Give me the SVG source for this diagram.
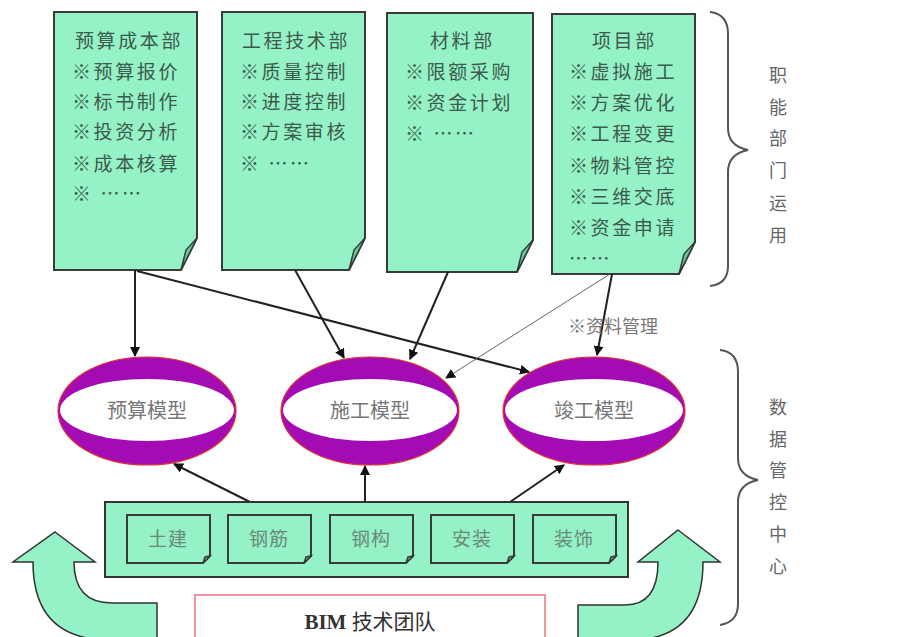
<svg xmlns="http://www.w3.org/2000/svg" width="913" height="637" viewBox="0 0 913 637">
<style>
.note{fill:#94f2c6;stroke:#3a3a3a;stroke-width:2}
.fold{fill:#5fcf9c;stroke:#3a3a3a;stroke-width:1.5}
.nt{font-family:"Noto Sans CJK SC","Noto Sans",sans-serif;font-size:19px;fill:#3e5a4c;letter-spacing:2.6px}
.side{font-family:"Noto Sans CJK SC",sans-serif;font-size:18px;fill:#666;text-anchor:middle}
.ell{fill:#a20cb2;stroke:#e23030;stroke-width:1.2}
.inner{fill:#fff}
.el{font-family:"Noto Sans CJK SC",sans-serif;font-size:20px;fill:#777;text-anchor:middle}
.sb{font-family:"Noto Sans CJK SC",sans-serif;font-size:19px;fill:#6a8a7a;text-anchor:middle;letter-spacing:1px}
.ln{stroke:#222;stroke-width:2;fill:none;marker-end:url(#ah)}
.thin{stroke:#666;stroke-width:1;fill:none;marker-end:url(#ah)}
.brace{fill:none;stroke:#555;stroke-width:2}
.bigarrow{fill:#94f2c6;stroke:#333;stroke-width:1.5}
</style>
<defs>
<marker id="ah" markerWidth="10" markerHeight="10" refX="9" refY="5" orient="auto" markerUnits="userSpaceOnUse">
<path d="M0,0 L10,5 L0,10 Z" fill="#111"/>
</marker>
</defs>
<rect width="913" height="637" fill="#fff"/>

<g id="dept-budget">
<path class="note" d="M54,12 H197 V238 L181,270 H54 Z"/>
<path class="fold" d="M197,238 L181,270 L186,250 Z"/>
<text class="nt" x="75" y="48">预算成本部</text>
<text class="nt" x="72" y="79">※预算报价</text>
<text class="nt" x="72" y="109">※标书制作</text>
<text class="nt" x="72" y="139">※投资分析</text>
<text class="nt" x="72" y="171">※成本核算</text>
<text class="nt" x="72" y="201">※ ……</text>
</g>

<g id="dept-engineering">
<path class="note" d="M222,12 H365 V238 L349,270 H222 Z"/>
<path class="fold" d="M365,238 L349,270 L354,250 Z"/>
<text class="nt" x="242" y="48">工程技术部</text>
<text class="nt" x="240" y="79">※质量控制</text>
<text class="nt" x="240" y="109">※进度控制</text>
<text class="nt" x="240" y="139">※方案审核</text>
<text class="nt" x="240" y="171">※ ……</text>
</g>

<g id="dept-material">
<path class="note" d="M387,13 H533 V240 L517,272 H387 Z"/>
<path class="fold" d="M533,240 L517,272 L522,252 Z"/>
<text class="nt" x="430" y="48">材料部</text>
<text class="nt" x="405" y="79">※限额采购</text>
<text class="nt" x="405" y="110">※资金计划</text>
<text class="nt" x="405" y="141">※ ……</text>
</g>

<g id="dept-project">
<path class="note" d="M552,14 H695 V242 L679,274 H552 Z"/>
<path class="fold" d="M695,242 L679,274 L684,254 Z"/>
<text class="nt" x="592" y="48">项目部</text>
<text class="nt" x="569" y="79">※虚拟施工</text>
<text class="nt" x="569" y="110">※方案优化</text>
<text class="nt" x="569" y="141">※工程变更</text>
<text class="nt" x="569" y="173">※物料管控</text>
<text class="nt" x="569" y="204">※三维交底</text>
<text class="nt" x="569" y="235">※资金申请</text>
<text class="nt" x="569" y="266">……</text>
</g>

<g id="brace-top">
<path class="brace" d="M710,12 Q728,14 728,34 V128 Q728,146 748,150 Q728,154 728,172 V266 Q728,284 710,286"/>
<text class="side" x="778" y="82">职</text>
<text class="side" x="778" y="114">能</text>
<text class="side" x="778" y="145">部</text>
<text class="side" x="778" y="177">门</text>
<text class="side" x="778" y="210">运</text>
<text class="side" x="778" y="242">用</text>
</g>

<g id="brace-bottom">
<path class="brace" d="M720,350 Q738,352 738,372 V458 Q738,476 758,480 Q738,484 738,502 V604 Q738,622 720,625"/>
<text class="side" x="778" y="414">数</text>
<text class="side" x="778" y="446">据</text>
<text class="side" x="778" y="477">管</text>
<text class="side" x="778" y="509">控</text>
<text class="side" x="778" y="541">中</text>
<text class="side" x="778" y="573">心</text>
</g>

<g id="model-budget">
<ellipse class="ell" cx="147" cy="411" rx="89" ry="54"/>
<ellipse class="inner" cx="147" cy="410" rx="87" ry="31"/>
<text class="el" x="147" y="418">预算模型</text>
</g>

<g id="model-construction">
<ellipse class="ell" cx="370" cy="411" rx="89" ry="54"/>
<ellipse class="inner" cx="370" cy="410" rx="87" ry="31"/>
<text class="el" x="370" y="418">施工模型</text>
</g>

<g id="model-completion">
<ellipse class="ell" cx="594" cy="411" rx="91" ry="54"/>
<ellipse class="inner" cx="594" cy="410" rx="89" ry="31"/>
<text class="el" x="594" y="418">竣工模型</text>
</g>

<g id="connectors">
<line class="ln" x1="135" y1="270" x2="135" y2="356"/>
<line class="ln" x1="137" y1="271" x2="529" y2="372"/>
<line class="ln" x1="295" y1="270" x2="344" y2="358"/>
<line class="ln" x1="448" y1="272" x2="410" y2="359"/>
<line class="ln" x1="612" y1="274" x2="597" y2="355"/>
<line class="thin" x1="610" y1="274" x2="446" y2="378"/>
<line class="ln" x1="250" y1="502" x2="174" y2="464"/>
<line class="ln" x1="365" y1="502" x2="365" y2="466"/>
<line class="ln" x1="510" y1="502" x2="564" y2="465"/>
</g>
<text x="568" y="333" style="font-family:'Noto Sans CJK SC',sans-serif;font-size:18px;fill:#777">※资料管理</text>

<g id="platform">
<rect x="105" y="502" width="523" height="75" fill="#94f2c6" stroke="#333" stroke-width="2"/>
</g>
<g id="sub-civil">
<path class="note" d="M127,515 H210 V556 L203,563 H127 Z"/>
<path class="fold" d="M210,556 L203,563 L205,557 Z"/>
<text class="sb" x="168" y="546">土建</text>
</g>
<g id="sub-rebar">
<path class="note" d="M228,515 H311 V556 L304,563 H228 Z"/>
<path class="fold" d="M311,556 L304,563 L306,557 Z"/>
<text class="sb" x="269" y="546">钢筋</text>
</g>
<g id="sub-steel">
<path class="note" d="M330,515 H413 V556 L406,563 H330 Z"/>
<path class="fold" d="M413,556 L406,563 L408,557 Z"/>
<text class="sb" x="371" y="546">钢构</text>
</g>
<g id="sub-install">
<path class="note" d="M431,515 H514 V556 L507,563 H431 Z"/>
<path class="fold" d="M514,556 L507,563 L509,557 Z"/>
<text class="sb" x="472" y="546">安装</text>
</g>
<g id="sub-decor">
<path class="note" d="M533,515 H616 V556 L609,563 H533 Z"/>
<path class="fold" d="M616,556 L609,563 L611,557 Z"/>
<text class="sb" x="574" y="546">装饰</text>
</g>

<g id="bim-team">
<rect x="195" y="595" width="350" height="50" fill="#fff" stroke="#f07080" stroke-width="1.5"/>
<text x="370" y="629" text-anchor="middle" style="font-family:'Liberation Serif','Noto Sans CJK SC',serif;font-size:21px;fill:#333"><tspan font-weight="bold">BIM</tspan> 技术团队</text>
</g>

<g id="arrow-left">
<path class="bigarrow" d="M55,532 L95,562 L74,562 Q74,603 112,603 L157,603 L157,640 L110,640 Q33,640 33,562 L13,562 Z"/>
</g>
<g id="arrow-right">
<path class="bigarrow" d="M678,530 L720,562 L703,562 Q703,640 630,640 L578,640 L578,605 L625,605 Q658,605 658,562 L638,562 Z"/>
</g>
</svg>
